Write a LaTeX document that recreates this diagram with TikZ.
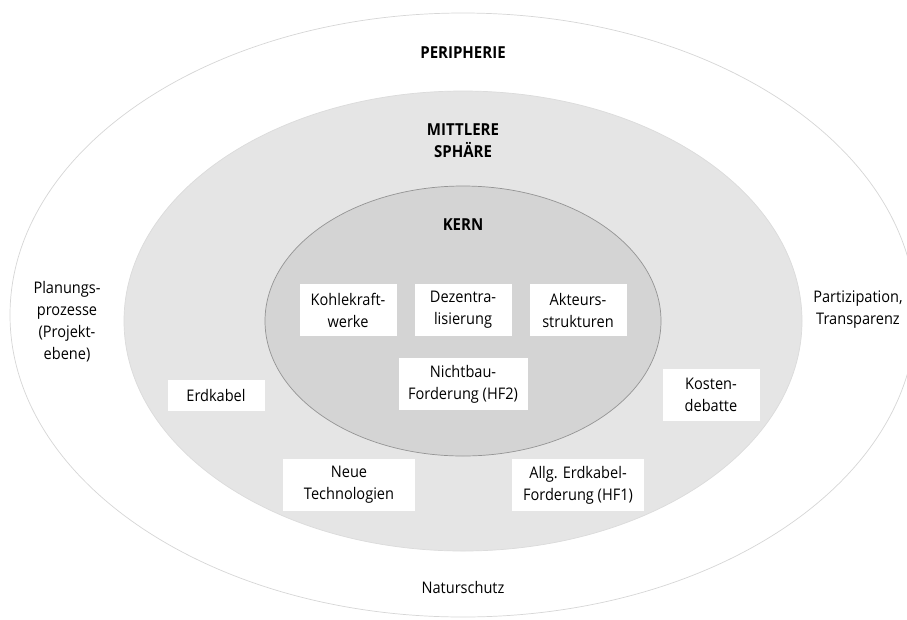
\documentclass[tikz,border=0pt]{standalone}
\usepackage{fontspec}
\setmainfont[FakeStretch=0.91]{Open Sans}
\usetikzlibrary{calc}
\usetikzlibrary{positioning}
\newcommand{\ringColorP}{white}
\newcommand{\ringColorM}{black!10}
\newcommand{\ringColorK}{black!17}
\newcommand{\edgeColorP}{black!16}
\newcommand{\edgeColorM}{black!14}
\newcommand{\edgeColorK}{black!42}
\tikzset{
    ring/.style = {fill=#1},
    ring/.default = \ringColorP,
    ringP/.style = {ring=\ringColorP, draw=\edgeColorP},
    ringM/.style = {ring=\ringColorM, draw=\edgeColorM},
    ringK/.style = {ring=\ringColorK, draw=\edgeColorK},
    txt/.style = {align=center, inner sep=0pt, font=\fontsize{16}{22}\selectfont},
    title/.style = {txt, font=\fontsize{16.5}{22}\selectfont\bfseries},
    topic/.style = {txt, fill=white, minimum width=97pt, minimum height=52pt}
}

\begin{document}
\begin{tikzpicture}[x={(1pt,0pt)},y={(0pt,-1pt)}, line width=0.7pt]
            \useasboundingbox (0,0) rectangle (907,619);

            \filldraw[ringP] (463,315) ellipse [x radius=453pt, y radius=302pt];
            \filldraw[ringM] (463,321) ellipse [x radius=339pt, y radius=230pt];
            \filldraw[ringK] (463,321) ellipse [x radius=198pt, y radius=135pt];

            \node[title] (peri) at (463,53) {PERIPHERIE};
            \node[title] (mitte) at (463,141) {MITTLERE\\SPHÄRE};
            \node[title] (kern) at (463,225) {KERN};

            \node[topic] (kohle) at (348,310) {Kohlekraft-\\werke};
            \node[topic] (dezentral) at (463,310) {Dezentra-\\lisierung};
            \node[topic] (akteure) at (578,310) {Akteurs-\\strukturen};
            \node[topic, minimum width=129pt] (nichtbau) at (463,384) {Nichtbau-\\Forderung (HF2)};

            \node[topic, minimum height=31pt] (erdkabel) at (216,395) {Erdkabel};
            \node[topic] (kosten) at (711,395) {Kosten-\\debatte};
            \node[topic, minimum width=132pt] (technik) at (349,485) {Neue\\Technologien};
            \node[topic, minimum width=132pt] (allg) at (578,485) {Allg. Erdkabel-\\Forderung (HF1)};

            \node[txt] (planung) at (67,322) {Planungs-\\prozesse\\(Projekt-\\ebene)};
            \node[txt] (partizip) at (858,310) {Partizipation,\\Transparenz};
            \node[txt] (natur) at (463,587) {Naturschutz};

        \end{tikzpicture}
\end{document}
